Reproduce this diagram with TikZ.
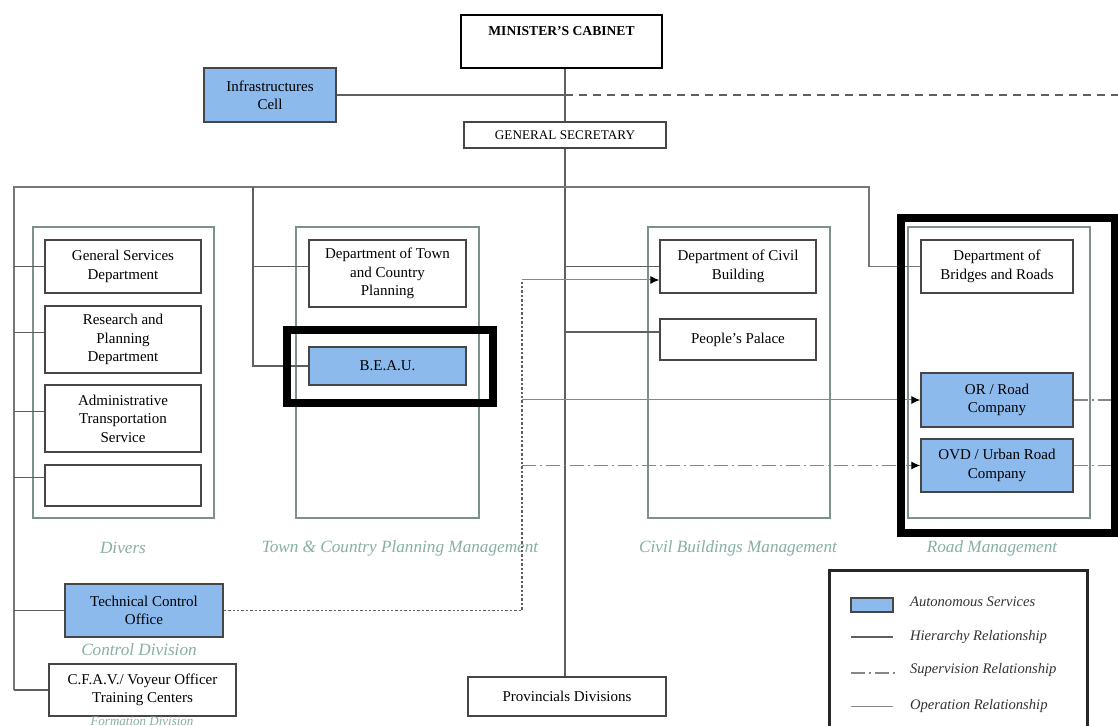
\documentclass[tikz,border=0pt]{standalone}
\usepackage{fontspec}
\setmainfont{Liberation Serif}
\usetikzlibrary{arrows.meta}
\definecolor{autoblue}{RGB}{140,186,236}
\definecolor{boxline}{RGB}{70,70,70}
\definecolor{grpline}{RGB}{125,145,140}
\definecolor{linkgray}{RGB}{95,95,95}
\definecolor{opgray}{RGB}{135,135,135}
\definecolor{grptext}{RGB}{135,175,166}
\newcommand{\boxfont}{\fontsize{7.5}{9.2}\selectfont}
\begin{document}
\begin{tikzpicture}[x=0.5pt,y=-0.5pt,
  box/.style={draw=boxline, line width=0.7pt, inner sep=1pt, align=center, font=\boxfont},
  auto/.style={box, fill=autoblue},
  grp/.style={draw=grpline, line width=0.6pt, inner sep=0pt},
  grplabel/.style={font=\itshape\fontsize{8.6}{10}\selectfont, text=grptext},
  hier/.style={draw=linkgray, line width=0.7pt},
  frameline/.style={draw=linkgray!85, line width=0.8pt},
  oper/.style={draw=opgray, line width=0.5pt},
  superv/.style={draw=opgray, line width=0.55pt, dash pattern=on 7pt off 2pt on 1pt off 2pt},
  ctrl/.style={draw=linkgray, line width=0.6pt, dash pattern=on 1.2pt off 1pt},
  topdash/.style={draw=linkgray, line width=0.6pt, dash pattern=on 4pt off 3pt},
  tip/.style={-{Latex[length=4.5pt,width=4pt,color=black]}},
  highlight/.style={draw=black, line width=4pt},
  legtext/.style={anchor=west, font=\itshape\fontsize{7.3}{9}\selectfont, text=black!80},
]
\clip (0,0) rectangle (1118,726);
\fill[white] (0,0) rectangle (1118,726);

% top of the hierarchy
\node[box, draw=black, line width=1.4pt, minimum width=100.5pt, minimum height=26.5pt] (cab) at (561.5,41.5) {};
\node[font=\bfseries\fontsize{6.8}{8}\selectfont] (cabtext) at (561.5,31) {MINISTER’S CABINET};
\node[auto, minimum width=66pt, minimum height=27pt] (infra) at (270,95) {Infrastructures\\Cell};
\node[box, minimum width=101pt, minimum height=13pt, font=\fontsize{6.6}{8}\selectfont] (gs) at (565,135) {GENERAL SECRETARY};

% group frames
\node[grp, minimum width=90.5pt, minimum height=145.5pt] (divers) at (123.5,372.5) {};
\node[grp, minimum width=91.5pt, minimum height=145.5pt] (town) at (387.5,372.5) {};
\node[grp, minimum width=91pt, minimum height=145.5pt] (civil) at (739,372.5) {};
\node[grp, minimum width=91pt, minimum height=145.5pt] (road) at (999,372.5) {};

% divers
\node[box, minimum width=78pt, minimum height=26.5pt] (gsd) at (123,266.5) {General Services\\Department};
\node[box, minimum width=78pt, minimum height=33.5pt] (rpd) at (123,339.5) {Research and\\Planning\\Department};
\node[box, minimum width=78pt, minimum height=33.5pt] (ats) at (123,418.5) {Administrative\\Transportation\\Service};
\node[box, minimum width=78pt, minimum height=20.5pt] (emp) at (123,485.5) {};

% town and country planning
\node[box, minimum width=78.5pt, minimum height=33.5pt] (dtcp) at (387.5,273.5) {Department of Town\\and Country\\Planning};
\node[auto, minimum width=78.5pt, minimum height=19pt] (beau) at (387.5,366) {B.E.A.U.};

% civil buildings
\node[box, minimum width=78pt, minimum height=26.5pt] (dcb) at (738,266.5) {Department of Civil\\Building};
\node[box, minimum width=78pt, minimum height=20.5pt] (pp) at (738,339.5) {People’s Palace};

% roads
\node[box, minimum width=76pt, minimum height=26.5pt] (dbr) at (997,266.5) {Department of\\Bridges and Roads};
\node[auto, minimum width=76pt, minimum height=27pt] (orc) at (997,400) {OR / Road\\Company};
\node[auto, minimum width=76pt, minimum height=26.5pt] (ovd) at (997,465.5) {OVD / Urban Road\\Company};

% lower boxes
\node[auto, minimum width=79pt, minimum height=26.5pt] (tco) at (144,610.5) {Technical Control\\Office};
\node[box, minimum width=93.5pt, minimum height=26pt] (cfav) at (142.5,690) {C.F.A.V./ Voyeur Officer\\Training Centers};
\node[box, minimum width=99pt, minimum height=19.5pt] (prov) at (567,696.5) {Provincials Divisions};

% group captions
\node[grplabel] (ldiv) at (123,548) {Divers};
\node[grplabel] (ltown) at (400,548) {Town \& Country Planning Management};
\node[grplabel] (lcivil) at (738,548) {Civil Buildings Management};
\node[grplabel] (lroad) at (992,548) {Road Management};
\node[grplabel] (lctrl) at (139,650) {Control Division};
\node[grplabel, font=\itshape\fontsize{6.5}{7}\selectfont, inner sep=0pt] (lform) at (142,721) {Formation Division};

% routing points
\coordinate (fl) at (14,187);
\coordinate (fr) at (869,187);
\coordinate (tb) at (253,187);
\coordinate (dv) at (522,280);
\coordinate (re) at (1118,0);

% hierarchy
\draw[hier] (infra.east) -- (infra.east -| gs.north);
\draw[topdash] (infra.east -| gs.north) -- (infra.east -| re);
\draw[hier] (gs.north |- cab.south) -- (gs.north);
\draw[hier] (gs.south) -- (gs.south |- prov.north);
\draw[frameline] (cfav.west -| fl) -- (fl) -- (fr) -- (fr |- dbr.west) -- (dbr.west);
\draw[hier] (tb) -- (tb |- beau.west) -- (beau.west);
\draw[hier] ([yshift=3.5pt]dtcp.west -| tb) -- ([yshift=3.5pt]dtcp.west);
\foreach \n/\s in {gsd/0, rpd/3.5, ats/3.5, emp/4, tco/0, cfav/0}
  \draw[hier] ([yshift=\s pt]\n.west -| fl) -- ([yshift=\s pt]\n.west);
\draw[hier] (dcb.west -| gs.north) -- (dcb.west);
\draw[hier] ([yshift=3.75pt]pp.west -| gs.north) -- ([yshift=3.75pt]pp.west);

% control, operation and supervision links
\draw[ctrl] (tco.east) -| (dv);
\draw[oper, tip] (dv) -- ([yshift=-6.75pt]dcb.west);
\draw[oper, tip] (orc.west -| dv) -- (orc.west);
\draw[superv, tip] (ovd.west -| dv) -- (ovd.west);
\draw[superv] (orc.east) -- (orc.east -| re);
\draw[superv] (ovd.east) -- (ovd.east -| re);

% legend
\draw[draw=black!85, line width=1.5pt] (829,570) rectangle (1087,745);
\node[draw=boxline, fill=autoblue, line width=0.7pt, minimum width=21pt, minimum height=7pt, inner sep=0pt] (sw) at (872,605) {};
\node[legtext] (la) at (903,602) {Autonomous Services};
\node[legtext] (lh) at (903,637) {Hierarchy Relationship};
\node[legtext] (ls) at (903,670) {Supervision Relationship};
\node[legtext] (lo) at (903,706) {Operation Relationship};
\draw[hier] (851,637) -- (893,637);
\draw[superv] (851,673) -- (895,673);
\draw[oper] (851,706) -- (893,706);

% emphasis frames
\draw[highlight] (287,330) rectangle (493,403);
\draw[highlight] (901,218) rectangle (1115,533);
\end{tikzpicture}
\end{document}
